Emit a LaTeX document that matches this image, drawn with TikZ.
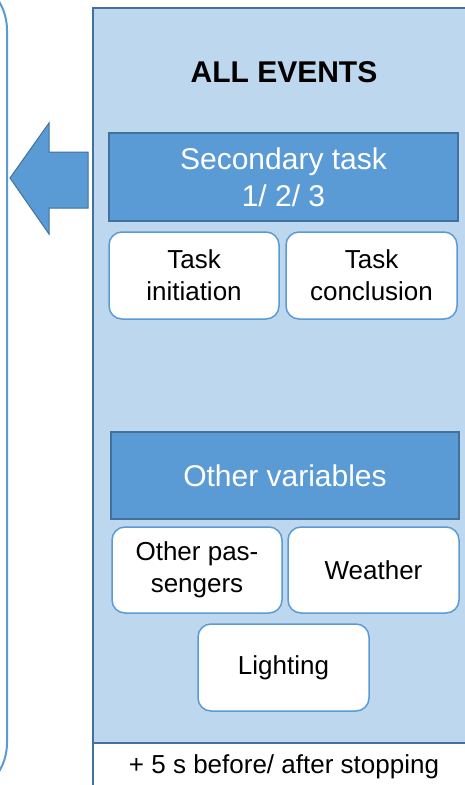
\documentclass[tikz,border=0pt]{standalone}
\usepackage{fontspec}
\setmainfont{Liberation Sans}
\definecolor{midblue}{HTML}{5B9BD5}
\definecolor{darkblue}{HTML}{41719C}
\definecolor{lightblue}{HTML}{BDD7EE}
\tikzset{
  headbox/.style={draw=darkblue, line width=1.2pt, fill=midblue, text=white, inner sep=0pt,
    align=center, font=\fontsize{30}{37}\selectfont},
  itembox/.style={draw=midblue, line width=1.5pt, fill=white, rounded corners=13pt, inner sep=0pt,
    align=center, font=\fontsize{26}{32}\selectfont, minimum height=87pt},
}
\begin{document}
\begin{tikzpicture}[x=1pt,y=-1pt]
\useasboundingbox (0,0) rectangle (465,785);
\fill[white] (0,0) rectangle (465,785);
% left rounded frame
\draw[midblue, line width=2pt, rounded corners=55pt] (-120,-25) -- (7,-25) -- (7,798) -- (-120,798);
% block arrow
\draw[darkblue, fill=midblue, line width=1pt, line join=miter]
  (88,152) -- (49,152) -- (49,123) -- (10,178) -- (49,234) -- (49,208) -- (88,208) -- cycle;
% main area
\draw[darkblue, fill=lightblue, line width=1.5pt] (93,8) rectangle (480,743);
\draw[darkblue, fill=white, line width=1.5pt] (93,743) rectangle (480,810);
\node[font=\bfseries\fontsize{30}{36}\selectfont] (title) at (284,72) {ALL EVENTS};
\node[headbox, minimum width=349pt, minimum height=88pt] (sec) at (283.5,177) {Secondary task\\1/ 2/ 3};
\node[itembox, minimum width=170pt] (init) at (194,275.5) {Task\\initiation};
\node[itembox, minimum width=171pt] (concl) at (371.5,275.5) {Task\\conclusion};
\node[headbox, minimum width=348pt, minimum height=87pt] (other) at (285,475.5) {Other variables};
\node[itembox, minimum width=170pt, minimum height=86pt] (pass) at (197,570) {Other pas-\\sengers};
\node[itembox, minimum width=171pt, minimum height=86pt] (weather) at (373.5,570) {Weather};
\node[itembox, minimum width=171pt] (light) at (283.5,667.5) {Lighting};
\node[font=\fontsize{26}{31}\selectfont] (note) at (284,767) {+ 5 s before/ after stopping};
\end{tikzpicture}
\end{document}
